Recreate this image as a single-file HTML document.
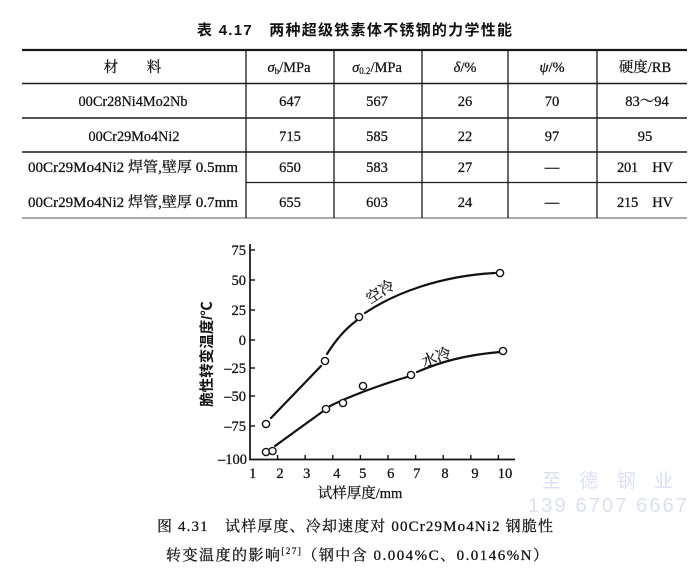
<!DOCTYPE html>
<html>
<head>
<meta charset="utf-8">
<style>
html,body{margin:0;padding:0;background:#fff;}
body{width:700px;height:580px;overflow:hidden;}
svg{display:block;}
.s{font-family:"Liberation Serif","Noto Serif CJK SC",serif;fill:#111;stroke:#111;stroke-width:0.25;}
.h{font-family:"Liberation Sans","Noto Sans CJK SC",sans-serif;fill:#111;}
</style>
</head>
<body>
<svg width="700" height="580" viewBox="0 0 700 580" xmlns="http://www.w3.org/2000/svg">
<rect width="700" height="580" fill="#fff"/>

<!-- Title -->
<text class="h" x="197" y="35" font-size="15" font-weight="bold" textLength="315" lengthAdjust="spacing">表 4.17　两种超级铁素体不锈钢的力学性能</text>

<!-- Table lines -->
<g stroke="#1a1a1a">
<line x1="22" y1="50" x2="687" y2="50" stroke-width="2.2"/>
<line x1="22" y1="83.5" x2="687" y2="83.5" stroke-width="1.4"/>
<line x1="22" y1="118" x2="687" y2="118" stroke-width="1.4"/>
<line x1="22" y1="152" x2="687" y2="152" stroke-width="1.4"/>
<line x1="246" y1="182.5" x2="687" y2="182.5" stroke-width="1.2"/>
<line x1="22" y1="218" x2="687" y2="218" stroke-width="1.2" stroke="#777"/>
<line x1="246" y1="50" x2="246" y2="218" stroke-width="1.3"/>
<line x1="334" y1="50" x2="334" y2="218" stroke-width="1.3"/>
<line x1="422" y1="50" x2="422" y2="218" stroke-width="1.3"/>
<line x1="508" y1="50" x2="508" y2="218" stroke-width="1.3"/>
<line x1="597" y1="50" x2="597" y2="218" stroke-width="1.3"/>
</g>

<!-- Table text -->
<g class="s" font-size="14.5" text-anchor="middle">
<text x="111" y="72">材</text>
<text x="154" y="72">料</text>
<text x="289" y="72"><tspan font-style="italic">σ</tspan><tspan font-size="9" dy="2">b</tspan><tspan dy="-2">/MPa</tspan></text>
<text x="377" y="72"><tspan font-style="italic">σ</tspan><tspan font-size="9" dy="2">0.2</tspan><tspan dy="-2">/MPa</tspan></text>
<text x="465" y="72"><tspan font-style="italic">δ</tspan>/%</text>
<text x="552" y="72"><tspan font-style="italic">ψ</tspan>/%</text>
<text x="645" y="72">硬度/RB</text>

<text x="133" y="106" textLength="109" lengthAdjust="spacingAndGlyphs">00Cr28Ni4Mo2Nb</text>
<text x="290" y="106">647</text>
<text x="377" y="106">567</text>
<text x="465" y="106">26</text>
<text x="552" y="106">70</text>
<text x="647" y="106">83～94</text>

<text x="134" y="141" textLength="91" lengthAdjust="spacingAndGlyphs">00Cr29Mo4Ni2</text>
<text x="290" y="141">715</text>
<text x="377" y="141">585</text>
<text x="465" y="141">22</text>
<text x="552" y="141">97</text>
<text x="645" y="141">95</text>

<text x="133" y="172" textLength="210" lengthAdjust="spacingAndGlyphs">00Cr29Mo4Ni2 焊管,壁厚 0.5mm</text>
<text x="290" y="172">650</text>
<text x="377" y="172">583</text>
<text x="465" y="172">27</text>
<text x="552" y="172">—</text>
<text x="645" y="172" textLength="56" lengthAdjust="spacing">201　HV</text>

<text x="133" y="207" textLength="210" lengthAdjust="spacingAndGlyphs">00Cr29Mo4Ni2 焊管,壁厚 0.7mm</text>
<text x="290" y="207">655</text>
<text x="377" y="207">603</text>
<text x="465" y="207">24</text>
<text x="552" y="207">—</text>
<text x="645" y="207" textLength="56" lengthAdjust="spacing">215　HV</text>
</g>

<!-- Chart axes -->
<g stroke="#111" stroke-width="1.7" fill="none">
<line x1="250" y1="244" x2="250" y2="460"/>
<line x1="249.2" y1="459.5" x2="515" y2="459.5"/>
</g>
<g stroke="#111" stroke-width="1.4">
<line x1="250" y1="250" x2="255" y2="250"/>
<line x1="250" y1="280" x2="255" y2="280"/>
<line x1="250" y1="310" x2="255" y2="310"/>
<line x1="250" y1="340" x2="255" y2="340"/>
<line x1="250" y1="368" x2="255" y2="368"/>
<line x1="250" y1="396" x2="255" y2="396"/>
<line x1="250" y1="426" x2="255" y2="426"/>
<line x1="277.6" y1="459.5" x2="277.6" y2="455"/>
<line x1="305.2" y1="459.5" x2="305.2" y2="455"/>
<line x1="332.8" y1="459.5" x2="332.8" y2="455"/>
<line x1="360.4" y1="459.5" x2="360.4" y2="455"/>
<line x1="388" y1="459.5" x2="388" y2="455"/>
<line x1="415.6" y1="459.5" x2="415.6" y2="455"/>
<line x1="443.2" y1="459.5" x2="443.2" y2="455"/>
<line x1="470.8" y1="459.5" x2="470.8" y2="455"/>
<line x1="498.4" y1="459.5" x2="498.4" y2="455"/>
</g>

<!-- Y tick labels -->
<g class="s" font-size="14.5" text-anchor="end">
<text x="246" y="255">75</text>
<text x="246" y="285">50</text>
<text x="246" y="315">25</text>
<text x="246" y="345">0</text>
<text x="246" y="373">–25</text>
<text x="246" y="401">–50</text>
<text x="246" y="431">–75</text>
<text x="247" y="464">–100</text>
</g>

<!-- X tick labels -->
<g class="s" font-size="14.5" text-anchor="middle">
<text x="252.7" y="478">1</text>
<text x="280" y="478">2</text>
<text x="306.7" y="478">3</text>
<text x="336.7" y="478">4</text>
<text x="362.7" y="478">5</text>
<text x="390.7" y="478">6</text>
<text x="416.7" y="478">7</text>
<text x="445" y="478">8</text>
<text x="475" y="478">9</text>
<text x="505" y="478">10</text>
</g>

<!-- Axis titles -->
<text class="s" x="360" y="498" font-size="14.5" text-anchor="middle">试样厚度/mm</text>
<text class="h" x="0" y="0" font-size="14.5" font-weight="bold" text-anchor="middle" transform="translate(212,354) rotate(-90)">脆性转变温度/℃</text>

<!-- Curves -->
<g stroke="#111" stroke-width="2.2" fill="none" stroke-linecap="round">
<path d="M271,418 L321,366"/>
<path d="M327,354 Q340,333 356,321"/>
<path d="M365,313 C395,293 440,276 495,273"/>
<path d="M275,446 L322,412"/>
<path d="M330,406 C350,396 380,385 407,377"/>
<path d="M417,372 C440,362 465,355 500,352"/>
</g>

<!-- Data points -->
<g stroke="#111" stroke-width="1.4" fill="#fff">
<circle cx="266" cy="424" r="3.6"/>
<circle cx="325" cy="361" r="3.6"/>
<circle cx="359" cy="317" r="3.6"/>
<circle cx="500" cy="273" r="3.6"/>
<circle cx="266" cy="452" r="3.6"/>
<circle cx="272.5" cy="451" r="3.6"/>
<circle cx="326" cy="409" r="3.6"/>
<circle cx="343" cy="403" r="3.6"/>
<circle cx="363" cy="386" r="3.6"/>
<circle cx="411" cy="375" r="3.6"/>
<circle cx="503" cy="351" r="3.6"/>
</g>

<!-- Curve labels -->
<text class="s" font-size="15" text-anchor="middle" transform="translate(383,296) rotate(-33)">空冷</text>
<text class="s" font-size="15" text-anchor="middle" transform="translate(438,362) rotate(-20)">水冷</text>

<!-- Watermark -->
<text x="542" y="487" font-family="Liberation Sans, Noto Sans CJK SC, sans-serif" font-size="19" fill="#dbe0f3" textLength="131" lengthAdjust="spacing">至德钢业</text>
<text x="528" y="512" font-family="Liberation Sans, sans-serif" font-size="20" fill="#dbe0f3" textLength="159" lengthAdjust="spacing">139 6707 6667</text>

<!-- Caption -->
<text class="s" x="157" y="531" font-size="15" textLength="396" lengthAdjust="spacing">图 4.31　试样厚度、冷却速度对 00Cr29Mo4Ni2 钢脆性</text>
<text class="s" x="166" y="560" font-size="15" textLength="382" lengthAdjust="spacing">转变温度的影响<tspan font-size="9" dy="-6">[27]</tspan><tspan dy="6">（钢中含 0.004%C、0.0146%N）</tspan></text>
</svg>
</body>
</html>
